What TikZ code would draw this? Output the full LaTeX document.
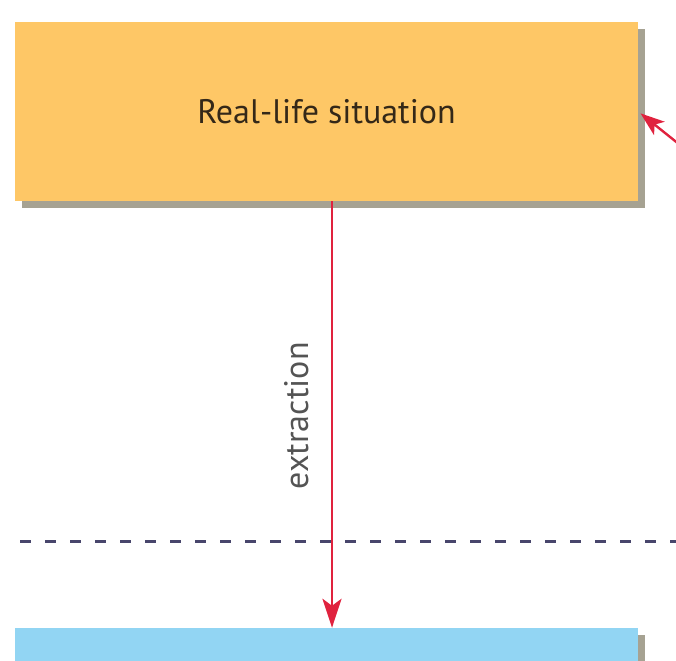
\documentclass[tikz,border=0pt]{standalone}
\usepackage{fontspec}
\setmainfont{PT Sans}
\usetikzlibrary{arrows.meta,shadows,calc}

\definecolor{boxorange}{RGB}{254,199,102}
\definecolor{boxblue}{RGB}{146,213,243}
\definecolor{shadowgray}{RGB}{166,162,146}
\definecolor{arrowred}{RGB}{224,34,62}
\definecolor{divider}{RGB}{72,70,108}
\definecolor{labelgray}{RGB}{84,84,84}
\definecolor{titletext}{RGB}{52,40,24}

\tikzset{
  x=1pt, y=1pt,
  panel/.style={draw=none, rectangle, inner sep=0pt,
    minimum width=623pt,
    drop shadow={shadow xshift=7pt, shadow yshift=-7pt, fill=shadowgray, opacity=1}},
  flow/.style={draw=arrowred, line width=2.6pt,
    -{Stealth[length=29pt,width=19pt,inset=7pt]}},
  dividerline/.style={draw=divider, line width=3pt, dash pattern=on 11pt off 14pt},
  steplabel/.style={font=\fontsize{34}{40}\selectfont, text=labelgray, rotate=90, inner sep=0pt}
}

\begin{document}
\begin{tikzpicture}
  \useasboundingbox (0,0) rectangle (676,660);
  \clip (0,0) rectangle (676,660);

  % upper panel: the real-world side
  \node[panel, fill=boxorange, minimum height=179pt,
        font=\fontsize{34}{40}\selectfont, text=titletext]
    (real) at (326.5,548.5) {Real-life situation};

  % lower panel, running off the bottom edge
  \node[panel, fill=boxblue, minimum height=80pt] (model) at (326.5,-8) {};

  % level separator
  \coordinate (sepL) at (20,118);
  \coordinate (sepR) at (680,118);
  \draw[dividerline] (sepL) -- (sepR);

  % extraction step from the situation down to the model
  \coordinate (exTop) at (real.south -| 332,0);
  \coordinate (exBot) at (model.north -| 332,0);
  \draw[flow] (exTop) -- (exBot);
  \node[steplabel] (exLabel) at ($(exTop)!0.503!(exBot)+(-35,0)$) {extraction};

  % incoming return arrow on the right
  \coordinate (back) at (690,507);
  \draw[flow, line width=2.4pt, -{Stealth[length=24pt,width=17pt,inset=6pt]}, shorten >=3pt]
    (back) -- (real.east);
\end{tikzpicture}
\end{document}
